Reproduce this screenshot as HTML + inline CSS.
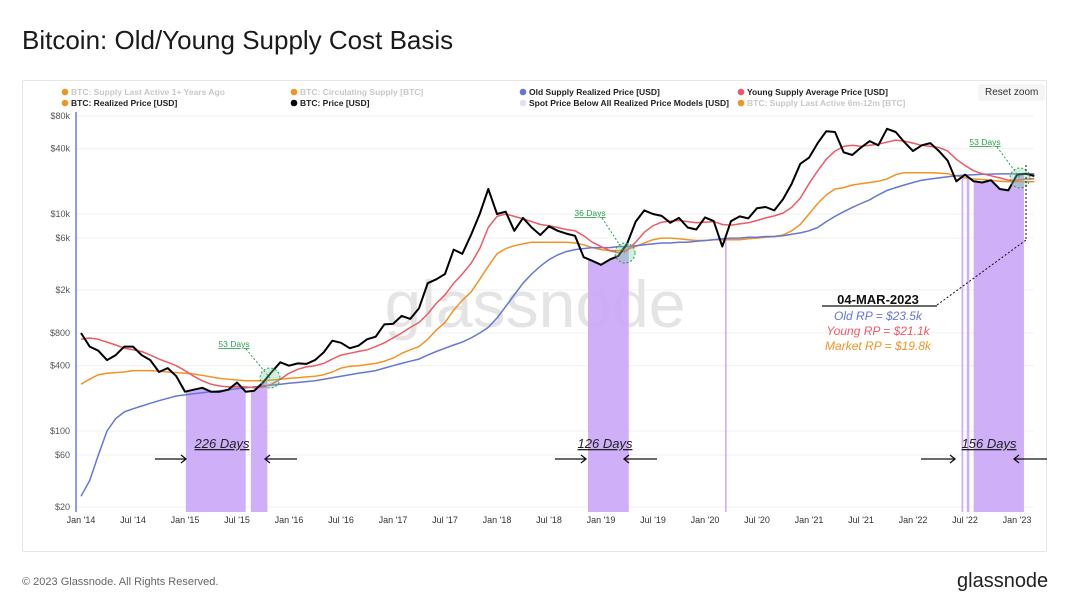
<!DOCTYPE html>
<html><head><meta charset="utf-8">
<style>
body{margin:0;width:1068px;height:615px;background:#fff;font-family:"Liberation Sans",sans-serif;overflow:hidden;position:relative}
.t{position:absolute;white-space:nowrap}
</style></head><body>
<div class="t" style="left:22px;top:25px;font-size:26px;color:#1a1a1a">Bitcoin: Old/Young Supply Cost Basis</div>
<div style="position:absolute;left:22px;top:80px;width:1023px;height:470px;border:1px solid #e6e6e6;border-radius:2px"></div>
<div class="t" style="left:22px;top:576px;font-size:11px;color:#666">© 2023 Glassnode. All Rights Reserved.</div>
<div class="t" style="left:957px;top:570px;font-size:20px;color:#222">glassnode</div>
<div class="t" style="left:978px;top:84px;font-size:10px;color:#333;background:#f5f5f5;padding:3px 7px;border-radius:3px">Reset zoom</div>
<svg id="c" width="1068" height="615" style="position:absolute;left:0;top:0" xmlns="http://www.w3.org/2000/svg"></svg>
<script>
const priceVals=[800,600,550,450,500,600,600,500,450,350,380,320,230,240,250,230,230,240,280,230,235,280,350,430,400,420,415,450,530,680,650,580,610,700,740,960,970,1150,1080,1350,2300,2500,2800,4700,4300,6400,10000,17000,10000,10500,7000,9200,7500,6400,7700,7000,6600,6300,4000,3700,3400,3800,4100,5300,8500,10800,10000,9600,8300,9200,7500,7200,9300,8600,5000,8600,9500,9100,11300,11600,10800,13700,19000,29000,33000,45000,58000,57000,37000,35000,41000,47000,43000,61000,57000,46000,38000,43000,45000,38000,31000,20000,23000,20000,19500,20500,17000,16500,23000,23500,22400];
const realizedVals=[270,300,330,340,345,350,360,360,360,355,350,345,340,335,325,315,305,300,295,290,290,290,295,300,305,310,315,320,330,350,380,395,400,410,420,440,470,520,560,600,700,850,1000,1300,1600,1900,2500,3300,4300,4800,5100,5300,5500,5500,5500,5500,5500,5400,5200,4900,4700,4600,4600,4700,5000,5400,5800,6000,6000,5900,5800,5700,5700,5800,5800,5800,5800,5900,6000,6100,6200,6400,7000,8000,10000,12500,15000,17000,17500,18500,19000,19500,20000,21000,23000,24000,24000,24000,24000,23800,23500,22500,21500,21000,20800,20500,20000,19800,19800,19800,19800];
const oldVals=[25,35,60,100,130,150,160,170,180,190,200,210,215,220,225,230,235,240,245,250,255,260,265,270,275,280,285,290,300,310,320,330,340,350,360,380,400,420,440,460,500,540,580,620,660,720,800,900,1100,1400,1800,2300,2800,3300,3800,4200,4500,4700,4800,4900,4900,4900,5000,5000,5100,5200,5300,5400,5400,5500,5500,5600,5700,5800,5900,6000,6000,6100,6100,6200,6200,6300,6500,6700,7000,7500,8500,9500,10500,11500,12500,13500,15000,16500,17500,18500,19500,20500,21000,21500,22000,22500,22800,23000,23200,23300,23400,23400,23400,23500,23500];
const youngVals=[700,720,700,660,620,580,560,540,500,460,430,400,360,320,290,270,260,255,255,255,250,255,270,300,340,370,390,400,420,460,500,520,540,560,600,650,720,800,900,1000,1200,1500,1800,2300,2800,3500,4800,7500,9500,10000,9500,9000,8500,8000,7800,7500,7200,7000,6300,5500,5000,4600,4400,4600,5500,6800,7800,8400,8600,8700,8500,8300,8400,8500,8000,7900,8100,8300,8700,9200,9600,10200,11500,14000,19000,25000,32000,38000,42000,43000,42000,43000,44000,46000,48000,47000,45000,43000,42000,41000,38000,32000,28000,25000,23500,22500,21500,20500,20500,21000,21100];
const bandStarts=[12.1,19.6,58.5,74.3,101.6,102.2,103.0];
const bandEnds=[19.0,21.5,63.2,74.5,101.8,102.5,108.8];
const yTicks=[80000,40000,10000,6000,2000,800,400,100,60,20];
const yTickLabels=["$80k","$40k","$10k","$6k","$2k","$800","$400","$100","$60","$20"];
const xTickLabels=["Jan '14","Jul '14","Jan '15","Jul '15","Jan '16","Jul '16","Jan '17","Jul '17","Jan '18","Jul '18","Jan '19","Jul '19","Jan '20","Jul '20","Jan '21","Jul '21","Jan '22","Jul '22","Jan '23"];

const NS="http://www.w3.org/2000/svg";const svg=document.getElementById('c');
const X=m=>81+m*104/12;
const Y=v=>116+(Math.log10(80000)-Math.log10(v))*108.5;
function el(t,a,p){const e=document.createElementNS(NS,t);for(const k in a)e.setAttribute(k,a[k]);(p||svg).appendChild(e);return e;}
function txt(s,x,y,a,name){const e=el('text',Object.assign({x:x,y:y,'font-family':'Liberation Sans, sans-serif'},a));e.textContent=s;return e;}
// grid
yTicks.forEach((v,i)=>{const g=el('line',{x1:76,x2:1034,y1:Y(v),y2:Y(v),stroke:'#f0f0f0'});

txt(yTickLabels[i],70,Y(v)+3,{'font-size':9,fill:'#555','text-anchor':'end'},'y-tick-label');});
xTickLabels.forEach((s,i)=>{txt(s,X(i*6),523,{'font-size':9,fill:'#333','text-anchor':'middle'},'x-tick-label');});
// watermark
txt('glassnode',535,327,{'font-size':66,fill:'#e4e4e4','text-anchor':'middle'},'watermark');
function path(vals){return vals.map((v,i)=>(i?'L':'M')+X(i).toFixed(1)+','+Y(v).toFixed(1)).join('');}
// clip under price
const defs=el('defs',{});const cp=el('clipPath',{id:'under'},defs);
el('path',{d:path(priceVals)+'L'+X(priceVals.length-1)+',512L'+X(0)+',512Z'},cp);
const bg=el('g',{'clip-path':'url(#under)'});
bandStarts.forEach((s,i)=>{const r=el('rect',{x:X(s),y:100,width:Math.max(1.5,X(bandEnds[i])-X(s)),height:412,fill:'#c9a6f7',opacity:0.9},bg);
});
// axis line
const ax=el('line',{x1:76,x2:76,y1:112,y2:512,stroke:'#6b7fd7','stroke-width':1.5});
const series=[[realizedVals,'#f39323','realized-price-line',1.5],[oldVals,'#6577d6','old-supply-rp-line',1.5],[youngVals,'#ee5a66','young-supply-price-line',1.5],[priceVals,'#000','btc-price-line',2]];
series.forEach(s=>{const p=el('path',{d:path(s[0]),fill:'none',stroke:s[1],'stroke-width':s[3],'stroke-linejoin':'round'});});
// legend
const leg=[[62,95,'#f39323','BTC: Supply Last Active 1+ Years Ago','#c8c8c8'],[62,106,'#f39323','BTC: Realized Price [USD]','#222'],[291,95,'#f39323','BTC: Circulating Supply [BTC]','#c8c8c8'],[291,106,'#000','BTC: Price [USD]','#222'],[520,95,'#6577d6','Old Supply Realized Price [USD]','#222'],[520,106,'#e7ddf7','Spot Price Below All Realized Price Models [USD]','#222'],[738,95,'#ee5a66','Young Supply Average Price [USD]','#222'],[738,106,'#f39323','BTC: Supply Last Active 6m-12m [BTC]','#c8c8c8']];
leg.forEach(l=>{const c=el('circle',{cx:l[0]+3,cy:l[1]-3,r:3.3,fill:l[2]});
txt(l[3],l[0]+9,l[1],{'font-size':8.5,fill:l[4],'font-weight':'bold'},'legend-entry');});
// annotations
[[234,347,270,378],[590,216,625,253],[985,145,1020,178]].forEach(a=>{
txt('53 Days'.replace('53',a[0]==590?'36':'53'),a[0],a[1],{'font-size':8.5,fill:'#2aa04a','text-anchor':'middle','text-decoration':'underline'},'days-label');
el('path',{d:`M${a[0]+12},${a[1]+2}L${a[2]},${a[3]}`,stroke:'#2aa04a','stroke-dasharray':'2,2',fill:'none'});
const c=el('circle',{cx:a[2],cy:a[3],r:10,fill:'rgba(120,210,160,0.35)',stroke:'#2aa04a','stroke-dasharray':'2,2'});});
[[222,155,186,297,265,'226 Days'],[605,555,586,657,624,'126 Days'],[989,921,955,1047,1014,'156 Days']].forEach(a=>{
txt(a[5],a[0],448,{'font-size':13,fill:'#222','text-anchor':'middle','font-style':'italic','text-decoration':'underline'},'duration-label');
[[a[1],a[2]],[a[3],a[4]]].forEach(p=>{const d=p[1]>p[0]?1:-1;
el('path',{d:`M${p[0]},459L${p[1]},459M${p[1]-5*d},455L${p[1]},459L${p[1]-5*d},463`,stroke:'#111','stroke-width':1.3,fill:'none'});});});
// callout
el('path',{d:'M937,305L1026,240',stroke:'#111','stroke-dasharray':'2,2',fill:'none'});
el('line',{x1:822,x2:937,y1:306,y2:306,stroke:'#111','stroke-width':1.2});
el('line',{x1:1026,x2:1026,y1:165,y2:240,stroke:'#111','stroke-dasharray':'2,2'});
txt('04-MAR-2023',878,304,{'font-size':13,'font-weight':'bold',fill:'#111','text-anchor':'middle'},'callout-date');
txt('Old RP = $23.5k',878,320,{'font-size':12,'font-style':'italic',fill:'#6577d6','text-anchor':'middle'},'callout-old-rp');
txt('Young RP = $21.1k',878,335,{'font-size':12,'font-style':'italic',fill:'#ee5a66','text-anchor':'middle'},'callout-young-rp');
txt('Market RP = $19.8k',878,350,{'font-size':12,'font-style':'italic',fill:'#f39323','text-anchor':'middle'},'callout-market-rp');
</script>
</body></html>
